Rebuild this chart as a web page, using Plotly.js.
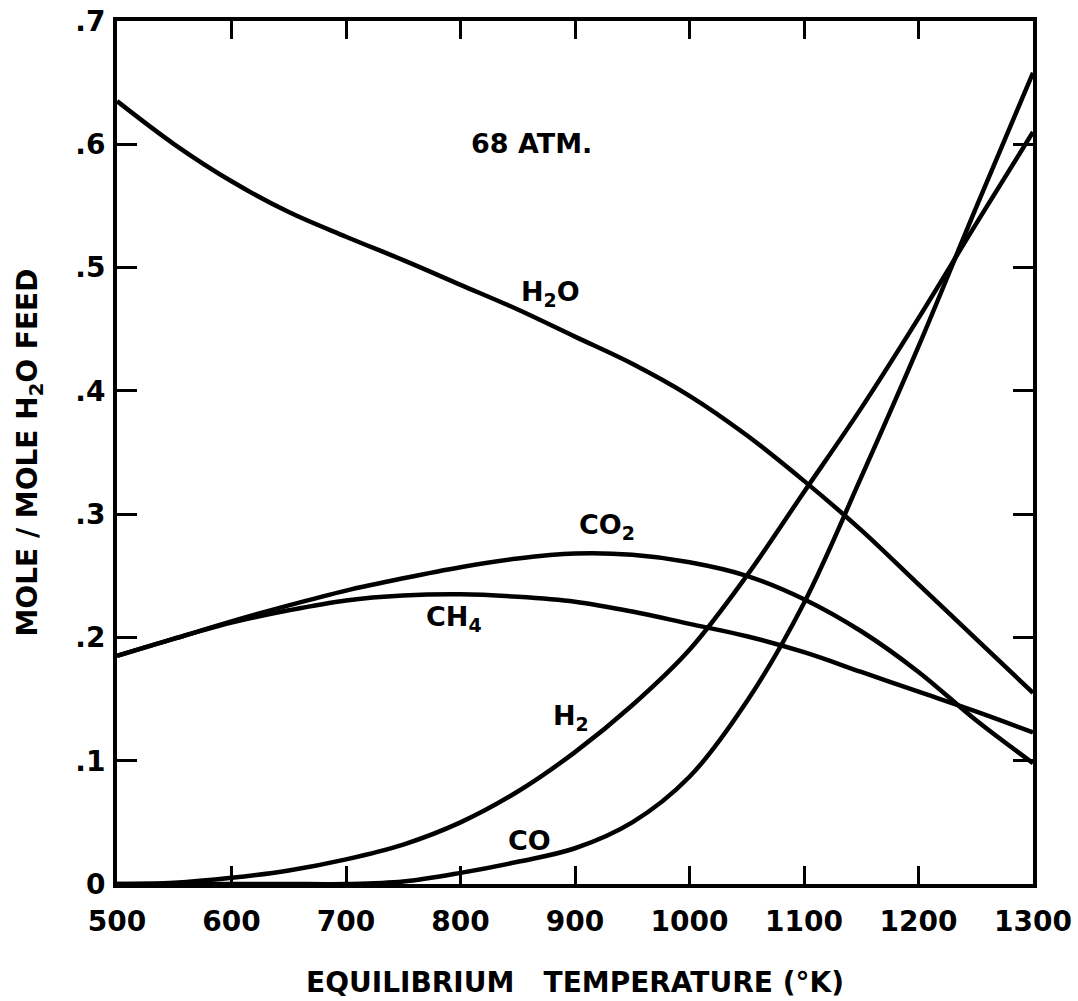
<!DOCTYPE html>
<html>
<head>
<meta charset="utf-8">
<script src="https://cdn.plot.ly/plotly-3.0.1.min.js"></script>
<style>html,body{margin:0;padding:0;background:#fff;}#chart{width:1078px;height:1001px;}</style>
</head>
<body>
<div id="chart"></div>
<script>
// Equilibrium temperature (K)
const temperature = [500, 550, 600, 650, 700, 750, 800, 850, 900, 950, 1000, 1050, 1100, 1150, 1200, 1250, 1300];
// Mole / mole H2O feed
const h2o = [0.635, 0.600, 0.570, 0.545, 0.525, 0.506, 0.486, 0.466, 0.444, 0.422, 0.396, 0.364, 0.327, 0.287, 0.243, 0.199, 0.155];
const co2 = [0.185, 0.199, 0.213, 0.226, 0.238, 0.248, 0.257, 0.264, 0.268, 0.267, 0.261, 0.250, 0.231, 0.205, 0.172, 0.133, 0.098];
const ch4 = [0.185, 0.199, 0.212, 0.222, 0.230, 0.234, 0.235, 0.233, 0.229, 0.221, 0.211, 0.201, 0.188, 0.172, 0.156, 0.140, 0.123];
const h2  = [0.000, 0.001, 0.005, 0.011, 0.020, 0.032, 0.050, 0.075, 0.107, 0.145, 0.190, 0.250, 0.318, 0.386, 0.459, 0.535, 0.610];
const co  = [0.000, 0.000, 0.000, 0.000, 0.000, 0.002, 0.009, 0.018, 0.029, 0.050, 0.087, 0.148, 0.228, 0.330, 0.436, 0.548, 0.658];

const xTickVals = [500, 600, 700, 800, 900, 1000, 1100, 1200, 1300];
const xTickText = ['500', '600', '700', '800', '900', '1000', '1100', '1200', '1300'];
const yTickVals = [0, 0.1, 0.2, 0.3, 0.4, 0.5, 0.6, 0.7];
const yTickText = ['0', '.1', '.2', '.3', '.4', '.5', '.6', '.7'];

const seriesNames = ['H2O', 'CO2', 'CH4', 'H2', 'CO'];
const seriesValues = [h2o, co2, ch4, h2, co];

const FONT = 'DejaVu Sans, Verdana, sans-serif';
const traces = seriesValues.map((vals, i) => ({
  x: temperature, y: vals, name: seriesNames[i], type: 'scatter', mode: 'lines',
  line: {color: '#000', width: 4.5, shape: 'spline', smoothing: 1},
  hoverinfo: 'x+y+name'
}));

const lbl = (x, y, text) => ({
  x: x, y: y, xref: 'x', yref: 'y', text: text, showarrow: false,
  xanchor: 'left', yanchor: 'middle',
  font: {family: FONT, size: 27, color: '#000', weight: 'bold'}
});

const layout = {
  width: 1078, height: 1001,
  margin: {l: 117, r: 45, t: 21, b: 117},
  paper_bgcolor: '#fff', plot_bgcolor: '#fff',
  showlegend: false,
  font: {family: FONT, color: '#000'},
  xaxis: {
    range: [500, 1300], tickvals: xTickVals, ticktext: xTickText,
    showline: true, linewidth: 4, linecolor: '#000', mirror: 'ticks',
    ticks: 'inside', ticklen: 18, tickwidth: 3, tickcolor: '#000',
    showgrid: false, zeroline: false, ticklabelstandoff: 9,
    tickfont: {family: FONT, size: 28, color: '#000', weight: 'bold'},
    title: {text: 'EQUILIBRIUM\u00A0\u00A0 TEMPERATURE (°K)', standoff: 37,
            font: {family: FONT, size: 28, color: '#000', weight: 'bold'}}
  },
  yaxis: {
    range: [0, 0.7], tickvals: yTickVals, ticktext: yTickText,
    showline: true, linewidth: 4, linecolor: '#000', mirror: 'ticks',
    ticks: 'inside', ticklen: 20, tickwidth: 3, tickcolor: '#000',
    showgrid: false, zeroline: false, ticklabelstandoff: 2,
    tickfont: {family: FONT, size: 28, color: '#000', weight: 'bold'},
    title: {text: 'MOLE / MOLE H<sub>2</sub>O FEED', standoff: 30,
            font: {family: FONT, size: 28, color: '#000', weight: 'bold'}}
  },
  annotations: [
    {x: 862, y: 0.601, xref: 'x', yref: 'y', text: '68 ATM.', showarrow: false,
     xanchor: 'center', yanchor: 'middle',
     font: {family: FONT, size: 27, color: '#000', weight: 'bold'}},
    lbl(851, 0.479, 'H<sub>2</sub>O'),
    lbl(902, 0.290, 'CO<sub>2</sub>'),
    lbl(768, 0.215, 'CH<sub>4</sub>'),
    lbl(879, 0.135, 'H<sub>2</sub>'),
    lbl(840, 0.035, 'CO')
  ]
};

Plotly.newPlot('chart', traces, layout, {displayModeBar: false, staticPlot: true});
</script>
</body>
</html>
